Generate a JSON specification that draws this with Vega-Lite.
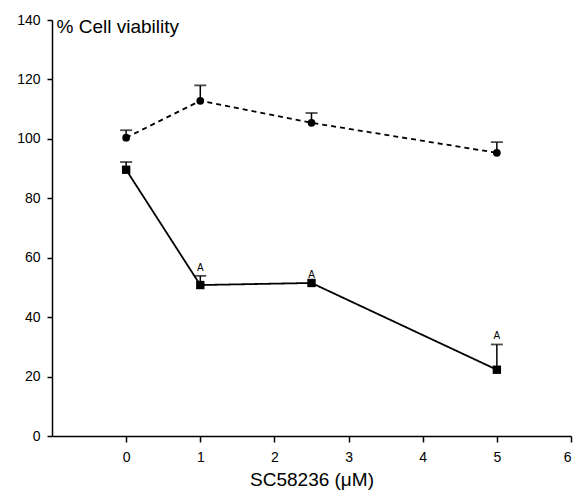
{
  "$schema": "https://vega.github.io/schema/vega-lite/v6.json",
  "width": 519,
  "height": 416,
  "autosize": "none",
  "padding": {"left": 52, "top": 20, "right": 6, "bottom": 55},
  "background": "white",
  "config": {
    "view": {"stroke": null},
    "font": "Liberation Sans",
    "axis": {"grid": false, "domainColor": "black", "tickColor": "black", "labelColor": "black", "titleColor": "black", "labelFont": "Liberation Sans", "titleFont": "Liberation Sans", "titleFontWeight": "normal", "domainWidth": 1.5, "tickWidth": 1.5}
  },
  "data": {
    "values": [
      {"conc": 0, "viability": 100.4, "top": 102.9, "series": "control", "label": ""},
      {"conc": 1, "viability": 112.8, "top": 118.0, "series": "control", "label": ""},
      {"conc": 2.5, "viability": 105.4, "top": 108.7, "series": "control", "label": ""},
      {"conc": 5, "viability": 95.3, "top": 98.9, "series": "control", "label": ""},
      {"conc": 0, "viability": 89.6, "top": 92.2, "series": "treated", "label": ""},
      {"conc": 1, "viability": 50.8, "top": 53.9, "series": "treated", "label": "A"},
      {"conc": 2.5, "viability": 51.5, "top": 51.5, "series": "treated", "label": "A"},
      {"conc": 5, "viability": 22.3, "top": 30.8, "series": "treated", "label": "A"}
    ]
  },
  "encoding": {
    "x": {
      "field": "conc", "type": "quantitative",
      "scale": {"domain": [-1, 6], "nice": false, "zero": false},
      "axis": {"values": [0, 1, 2, 3, 4, 5, 6], "title": "SC58236 (μM)", "titleFontSize": 19, "labelFontSize": 14, "tickSize": 6, "labelPadding": 8, "titlePadding": 6}
    }
  },
  "layer": [
    {
      "mark": {"type": "line", "color": "black", "strokeWidth": 1.8},
      "encoding": {
        "y": {
          "field": "viability", "type": "quantitative",
          "scale": {"domain": [0, 140], "nice": false},
          "axis": {"values": [0, 20, 40, 60, 80, 100, 120, 140], "title": "% Cell viability", "titleAngle": 0, "titleAlign": "left", "titleBaseline": "middle", "titleX": 4, "titleY": 6, "titleFontSize": 19, "labelFontSize": 14, "tickSize": 5, "labelPadding": 7}
        },
        "strokeDash": {
          "field": "series", "type": "nominal",
          "scale": {"domain": ["control", "treated"], "range": [[5, 4], [1, 0]]},
          "legend": null
        }
      }
    },
    {
      "mark": {"type": "rule", "color": "black", "strokeWidth": 1.5},
      "encoding": {
        "y": {"field": "viability", "type": "quantitative"},
        "y2": {"field": "top"}
      }
    },
    {
      "mark": {"type": "tick", "color": "black", "orient": "horizontal", "size": 12, "thickness": 1.8},
      "transform": [{"filter": "datum.top > datum.viability"}],
      "encoding": {
        "y": {"field": "top", "type": "quantitative"}
      }
    },
    {
      "mark": {"type": "point", "filled": true, "color": "black", "opacity": 1},
      "encoding": {
        "y": {"field": "viability", "type": "quantitative"},
        "shape": {"field": "series", "type": "nominal", "scale": {"domain": ["control", "treated"], "range": ["circle", "square"]}, "legend": null},
        "size": {"field": "series", "type": "nominal", "scale": {"domain": ["control", "treated"], "range": [60, 70]}, "legend": null}
      }
    },
    {
      "mark": {"type": "text", "color": "black", "fontSize": 10, "baseline": "bottom", "dy": -3},
      "transform": [{"filter": "datum.label != ''"}],
      "encoding": {
        "y": {"field": "top", "type": "quantitative"},
        "text": {"field": "label"}
      }
    }
  ]
}
